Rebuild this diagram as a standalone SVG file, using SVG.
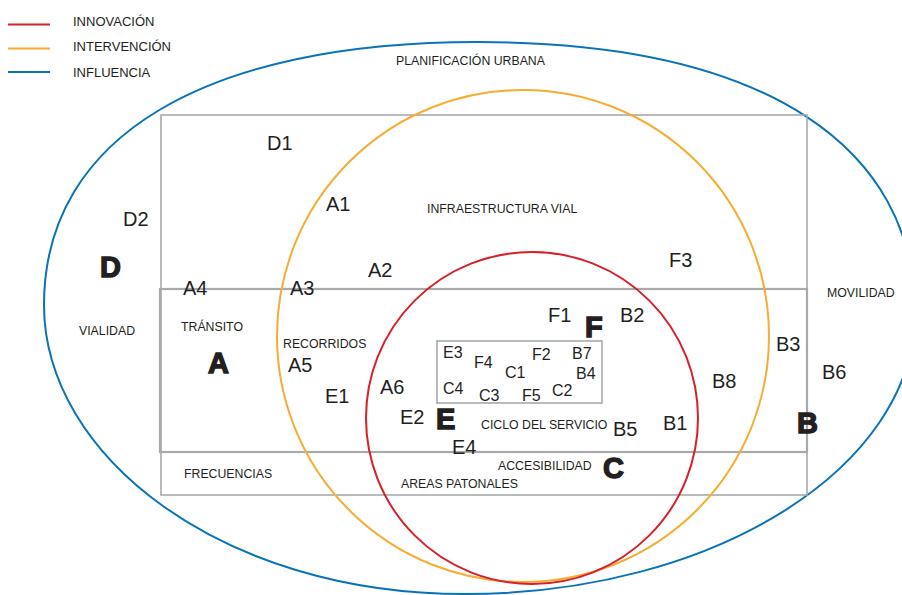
<svg xmlns="http://www.w3.org/2000/svg" width="902" height="595" viewBox="0 0 902 595">
<style>
.bg{fill:#ffffff}
.ring{fill:none;stroke-width:2}
.red{stroke:#d6202a}
.org{stroke:#f8ac32}
.blu{stroke:#0a73b8}
.box{fill:none;stroke:#a7a9ac;stroke-width:1.6}
.boxb{fill:none;stroke:#a7a9ac;stroke-width:2.2}
.cat{font-family:"Liberation Sans",Arial,sans-serif;font-size:12.3px;fill:#231f20}
.leg{font-family:"Liberation Sans",Arial,sans-serif;font-size:13px;fill:#231f20}
.code{font-family:"Liberation Sans",Arial,sans-serif;font-size:20px;fill:#231f20}
.sm{font-family:"Liberation Sans",Arial,sans-serif;font-size:16px;fill:#231f20}
.big{font-family:"Liberation Sans",Arial,sans-serif;font-size:29px;font-weight:bold;fill:#231f20;stroke:#231f20;stroke-width:1.4}
</style>
<rect class="bg" x="0" y="0" width="902" height="595"/>
<g id="legend">
<line class="ring red" x1="8" y1="24.5" x2="50" y2="24.5"/>
<line class="ring org" x1="8" y1="48.5" x2="50" y2="48.5"/>
<line class="ring blu" x1="8" y1="72" x2="50" y2="72"/>
<text class="leg" x="73" y="26">INNOVACIÓN</text>
<text class="leg" x="73" y="51">INTERVENCIÓN</text>
<text class="leg" x="73" y="77">INFLUENCIA</text>
</g>
<g id="influencia">
<path class="ring blu" d="M44,305 C44,135 208,42 478,42 C770,42 915,150 915,313 C915,468 713,594 465,594 C220,594 44,455 44,305 Z"/>
<text class="cat" x="396" y="65">PLANIFICACIÓN URBANA</text>
</g>
<g id="areas">
<rect class="box" x="161" y="115" width="646" height="380"/>
<rect class="boxb" x="160" y="289" width="647" height="163"/>
<rect class="box" x="437" y="341" width="165" height="62"/>
</g>
<g id="intervencion">
<circle class="ring org" cx="523" cy="336" r="246"/>
</g>
<g id="innovacion">
<circle class="ring red" cx="532" cy="418" r="166"/>
</g>
<g id="labels">
<text class="cat" x="427" y="213">INFRAESTRUCTURA VIAL</text>
<text class="cat" x="827" y="297">MOVILIDAD</text>
<text class="cat" x="181" y="331">TRÁNSITO</text>
<text class="cat" x="79" y="335">VIALIDAD</text>
<text class="cat" x="283" y="348">RECORRIDOS</text>
<text class="cat" x="481" y="429">CICLO DEL SERVICIO</text>
<text class="cat" x="498" y="470">ACCESIBILIDAD</text>
<text class="cat" x="401" y="488">AREAS PATONALES</text>
<text class="cat" x="184" y="478">FRECUENCIAS</text>
</g>
<g id="node-D">
<text class="big" x="100" y="277">D</text>
<text class="code" x="267" y="150">D1</text>
<text class="code" x="123" y="226">D2</text>
</g>
<g id="node-A">
<text class="big" x="208" y="373">A</text>
<text class="code" x="326" y="211">A1</text>
<text class="code" x="368" y="277">A2</text>
<text class="code" x="290" y="295">A3</text>
<text class="code" x="183" y="295">A4</text>
<text class="code" x="288" y="372">A5</text>
<text class="code" x="380" y="394">A6</text>
</g>
<g id="node-F">
<text class="big" x="585" y="337">F</text>
<text class="code" x="548" y="322">F1</text>
<text class="code" x="669" y="267">F3</text>
<text class="sm" x="532" y="360">F2</text>
<text class="sm" x="474" y="368">F4</text>
<text class="sm" x="522" y="401">F5</text>
</g>
<g id="node-B">
<text class="big" x="797" y="433">B</text>
<text class="code" x="663" y="430">B1</text>
<text class="code" x="620" y="322">B2</text>
<text class="code" x="776" y="351">B3</text>
<text class="code" x="613" y="436">B5</text>
<text class="code" x="822" y="379">B6</text>
<text class="code" x="712" y="388">B8</text>
<text class="sm" x="572" y="359">B7</text>
<text class="sm" x="576" y="379">B4</text>
</g>
<g id="node-E">
<text class="big" x="436" y="429">E</text>
<text class="code" x="325" y="403">E1</text>
<text class="code" x="400" y="424">E2</text>
<text class="code" x="452" y="454">E4</text>
<text class="sm" x="443" y="358">E3</text>
</g>
<g id="node-C">
<text class="big" x="603" y="478">C</text>
<text class="sm" x="505" y="378">C1</text>
<text class="sm" x="552" y="396">C2</text>
<text class="sm" x="479" y="401">C3</text>
<text class="sm" x="443" y="394">C4</text>
</g>
</svg>
